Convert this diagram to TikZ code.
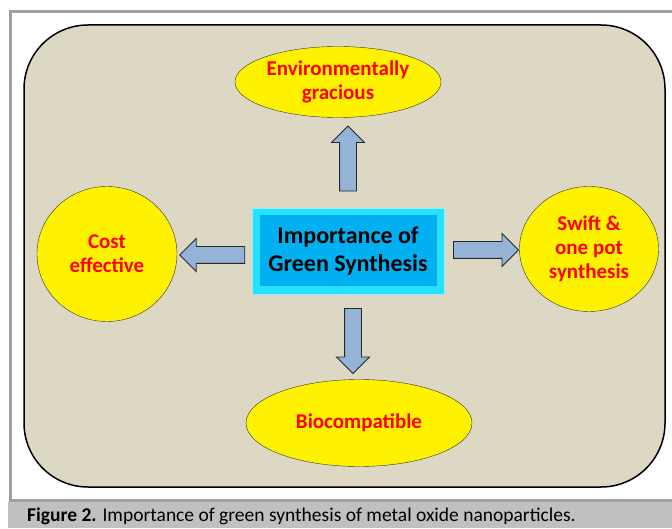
\documentclass[tikz,border=0pt]{standalone}
\usepackage{fontspec}
\setmainfont{Carlito}
\usetikzlibrary{shapes.geometric,shapes.arrows,calc}

\definecolor{panelfill}{RGB}{221,216,196}
\definecolor{arrowfill}{RGB}{149,179,215}
\definecolor{hubglow}{RGB}{40,225,255}
\definecolor{hubfill}{RGB}{0,176,240}
\definecolor{framegray}{RGB}{160,160,160}
\definecolor{captiongray}{RGB}{192,192,192}

\begin{document}
\begin{tikzpicture}[%
  x=1pt, y=1pt,
  benefit/.style={%
    ellipse,
    fill=yellow,
    draw=black!80,
    thin,
    inner sep=0pt,
    text=red,
    align=center,
    font=\fontsize{21}{24}\selectfont\bfseries,
  },
  blockarrow/.style={%
    single arrow,
    minimum height=65pt,
    inner xsep=0pt,
    inner ysep=8pt,
    single arrow head extend=8pt,
    fill=arrowfill,
    draw=black!85,
    line width=0.9pt,
  }
]
  \useasboundingbox (0,0) rectangle (672,528);
  % frame and caption strip
  \fill [captiongray] (8,0) rectangle (672,26);
  \draw [framegray, line width=3pt] (10,28) rectangle (690,516);
  \node [anchor=base west, inner sep=0pt, font=\fontsize{19.5}{22}\selectfont] (caption) at (27,7)
    {\textbf{Figure 2.} Importance of green synthesis of metal oxide nanoparticles.};
  % panel
  \draw [fill=panelfill, line width=1.5pt, rounded corners=64pt] (24,41) rectangle (665,503);
  % hub
  \node [rectangle, fill=hubglow, draw=hubglow!50!white, minimum width=192pt, minimum height=86pt] (hubframe) at (348,277) {};
  \node [rectangle, fill=hubfill, minimum width=177pt, minimum height=71pt, align=center,
    font=\fontsize{24}{28}\selectfont\bfseries] (hub) at (hubframe) {Importance of\\Green Synthesis};
  % benefits
  \node [benefit, minimum width=206pt, minimum height=71pt] (eco) at (338,446) {Environmentally\\gracious};
  \node [benefit, minimum width=140pt, minimum height=135pt] (cost) at (107,274) {Cost\\effective};
  \node [benefit, minimum width=139pt, minimum height=125pt] (swift) at (589,279) {Swift \&\\one pot\\synthesis};
  \node [benefit, minimum width=226pt, minimum height=87pt] (bio) at (359,105) {Biocompatible};
  % block arrows
  \node [blockarrow, rotate=90] (toeco) at ($(hubframe.north)!0.5!(hubframe.north |- eco.south)$) {};
  \node [blockarrow, rotate=180, yshift=4pt, xshift=-2pt] (tocost) at ($(hubframe.west)!0.5!(hubframe.west -| cost.east)$) {};
  \node [blockarrow, yshift=1pt] (toswift) at ($(hubframe.east)!0.5!(hubframe.east -| swift.west)$) {};
  \node [blockarrow, rotate=270, yshift=5pt] (tobio) at ($(hubframe.south)!0.5!(hubframe.south |- bio.north)$) {};
\end{tikzpicture}
\end{document}
